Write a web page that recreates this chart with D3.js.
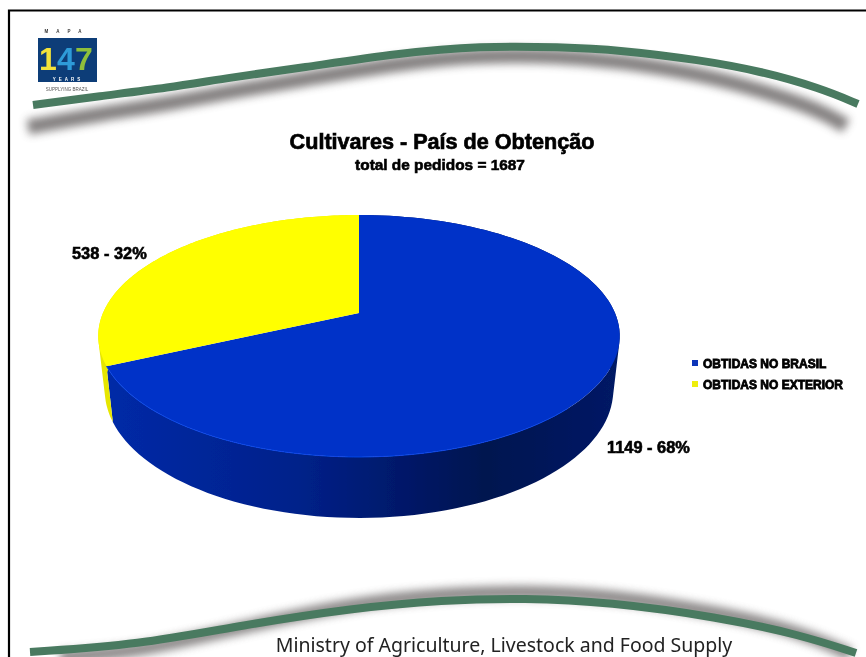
<!DOCTYPE html>
<html><head><meta charset="utf-8">
<script src="https://cdn.jsdelivr.net/npm/d3@7/dist/d3.min.js"></script>
<style>html,body{margin:0;padding:0;background:#fff}svg{display:block}</style>
</head><body><svg id="c" width="866" height="657"></svg>
<script>
const categories = ["OBTIDAS NO BRASIL", "OBTIDAS NO EXTERIOR"];
const values = [1149, 538];
const dataLabels = ["1149 - 68%", "538 - 32%"];
const title = "Cultivares - País de Obtenção";
const subtitle = "total de pedidos = 1687";
const footer = "Ministry of Agriculture, Livestock and Food Supply";
const topColors = ["#0033c8", "#ffff00"];

const svg = d3.select("#c");
const defs = svg.append("defs");
const blur = (id, s) => defs.append("filter").attr("id", id)
  .attr("x", "-20%").attr("y", "-50%").attr("width", "140%").attr("height", "200%")
  .append("feGaussianBlur").attr("stdDeviation", s);
blur("b04", 0.5); blur("b07", 0.7); blur("b4", 4.2);

// frame
svg.append("path").attr("d", "M9,657V10.5H866").attr("fill", "none").attr("stroke", "#000").attr("stroke-width", 2.2);

// decorative swooshes
const curve = d3.line().curve(d3.curveBasis);
const topWave = [[33,105],[100,96],[167,88],[233,77],[300,68],[400,53],[480,46],[560,47],[620,50],[700,60],[760,71],[820,88],[858,104]];
const topShade = [[28,127],[100,114],[167,104],[233,91],[300,80],[400,63],[480,55],[560,56],[620,61],[700,74],[760,90],[820,110],[846,126]];
const botWave = [[30,652],[138,645],[243,625],[354,608],[442,600],[525,598],[608,602],[718,617],[801,635],[856,653]];
const botShade = [[60,657],[138,652],[243,627],[354,603],[442,594],[525,591],[608,595],[718,612],[801,632],[850,654]];
svg.append("path").attr("d", curve(topShade)).attr("fill","none").attr("stroke","#6f6c6c").attr("stroke-width",15).attr("filter","url(#b4)").attr("opacity",.85);
svg.append("path").attr("d", curve(botShade)).attr("fill","none").attr("stroke","#6f6c6c").attr("stroke-width",13).attr("filter","url(#b4)").attr("opacity",.8);
svg.append("path").attr("d", curve(topWave)).attr("fill","none").attr("stroke","#4a7a60").attr("stroke-width",8).attr("filter","url(#b04)");
svg.append("path").attr("d", curve(botWave)).attr("fill","none").attr("stroke","#4a7a60").attr("stroke-width",8).attr("filter","url(#b04)");

// logo
const logo = svg.append("g").attr("filter","url(#b04)");
logo.append("rect").attr("x",38).attr("y",38).attr("width",59).attr("height",44).attr("fill","#0c3d78");
logo.append("text").attr("x",67).attr("y",33).attr("text-anchor","middle").attr("font-family","Liberation Sans").attr("font-size",4.5).attr("font-weight","bold").attr("fill","#333").attr("letter-spacing",8).text("MAPA");
[["1","#f2e23a",48],["4","#2f9bd8",66],["7","#8fbf3a",84]].forEach(([t,c,x]) =>
  logo.append("text").attr("x",x).attr("y",70).attr("text-anchor","middle").attr("font-family","Liberation Sans").attr("font-weight","bold").attr("font-size",32).attr("fill",c).text(t));
logo.append("text").attr("x",68).attr("y",81).attr("text-anchor","middle").attr("font-family","Liberation Sans").attr("font-size",4.5).attr("font-weight","bold").attr("fill","#fff").attr("letter-spacing",3).text("YEARS");
logo.append("text").attr("x",67).attr("y",91).attr("text-anchor","middle").attr("font-family","Liberation Sans").attr("font-size",4.5).attr("fill","#555").text("SUPPLYING BRAZIL");

// 3D pie: a unit disc seen in perspective
const cx = 359, R = 256, pa = 57.15, pb = 313, pc = -0.19;
const project = a => {
  const u = Math.sin(a), v = -Math.cos(a), w = 1 + pc * v;
  return [cx + R * u / w, (pa * v + pb) / w];
};
const lower = ([x, y]) => [cx + (x - cx) * 0.975, 1.056 * y + 35.4];
const pie = d3.pie().sort(null).startAngle(0).endAngle(2 * Math.PI)(values);
const samples = (s, e) => d3.range(0, 121).map(i => s + (e - s) * i / 120);

const grad = defs.append("linearGradient").attr("id","sideBlue").attr("gradientUnits","userSpaceOnUse")
  .attr("x1",100).attr("x2",620).attr("y1",0).attr("y2",0);
[[0,"#002aa8"],[.38,"#00218a"],[.74,"#00124f"],[1,"#001a66"]].forEach(([o,c]) => grad.append("stop").attr("offset",o).attr("stop-color",c));
const sideFill = ["url(#sideBlue)", "#e6e600"];

const pieG = svg.append("g").attr("filter","url(#b04)");
// side walls
pie.forEach((p, i) => {
  const as = samples(p.startAngle, p.endAngle);
  let d = "";
  for (let k = 0; k < as.length - 1; k++) {
    let q = [project(as[k]), project(as[k+1]), lower(project(as[k+1])), lower(project(as[k]))];
    if (d3.polygonArea(q) < 0) q = q.reverse();
    d += "M" + q.join("L") + "Z";
  }
  pieG.append("path").attr("d", d).attr("fill", sideFill[i]);
});
// top faces
pie.forEach((p, i) => {
  const pts = samples(p.startAngle, p.endAngle).map(project);
  pieG.append("path").attr("d", "M" + [cx, pb] + "L" + pts.join("L") + "Z").attr("fill", topColors[i]);
});
// light rim along the front of the blue slice
pieG.append("path")
  .attr("d", "M" + samples(Math.PI * 0.75, pie[0].endAngle).map(project).join("L"))
  .attr("fill","none").attr("stroke","#0a45e6").attr("stroke-width",1);

// text
const heavy = (sel, sw) => sel.attr("font-family","Liberation Sans").attr("font-weight","bold").attr("fill","#000")
  .attr("stroke","#000").attr("stroke-width",sw).attr("filter","url(#b04)");
heavy(svg.append("text").attr("x",442).attr("y",149).attr("text-anchor","middle").attr("font-size",21.6).text(title), .7);
heavy(svg.append("text").attr("x",440).attr("y",170).attr("text-anchor","middle").attr("font-size",15.4).text(subtitle), .6);
heavy(svg.append("text").attr("x",607).attr("y",453).attr("font-size",16.4).text(dataLabels[0]), .6);
heavy(svg.append("text").attr("x",72).attr("y",259).attr("font-size",16.4).text(dataLabels[1]), .6);

// legend
const legY = d3.scalePoint().domain(categories).range([363, 384]);
const legColors = ["#0a35b8", "#eeee10"];
categories.forEach((c, i) => {
  svg.append("rect").attr("x",692).attr("y",legY(c)-3).attr("width",6).attr("height",6).attr("fill",legColors[i]).attr("filter","url(#b04)");
  heavy(svg.append("text").attr("x",703).attr("y",legY(c)+4.5).attr("font-size",12).text(c), .8);
});

svg.append("text").attr("x",504).attr("y",652).attr("text-anchor","middle").attr("font-family","Noto Sans").attr("font-size",19.5).attr("fill","#222").attr("filter","url(#b04)").text(footer);
</script></body></html>
